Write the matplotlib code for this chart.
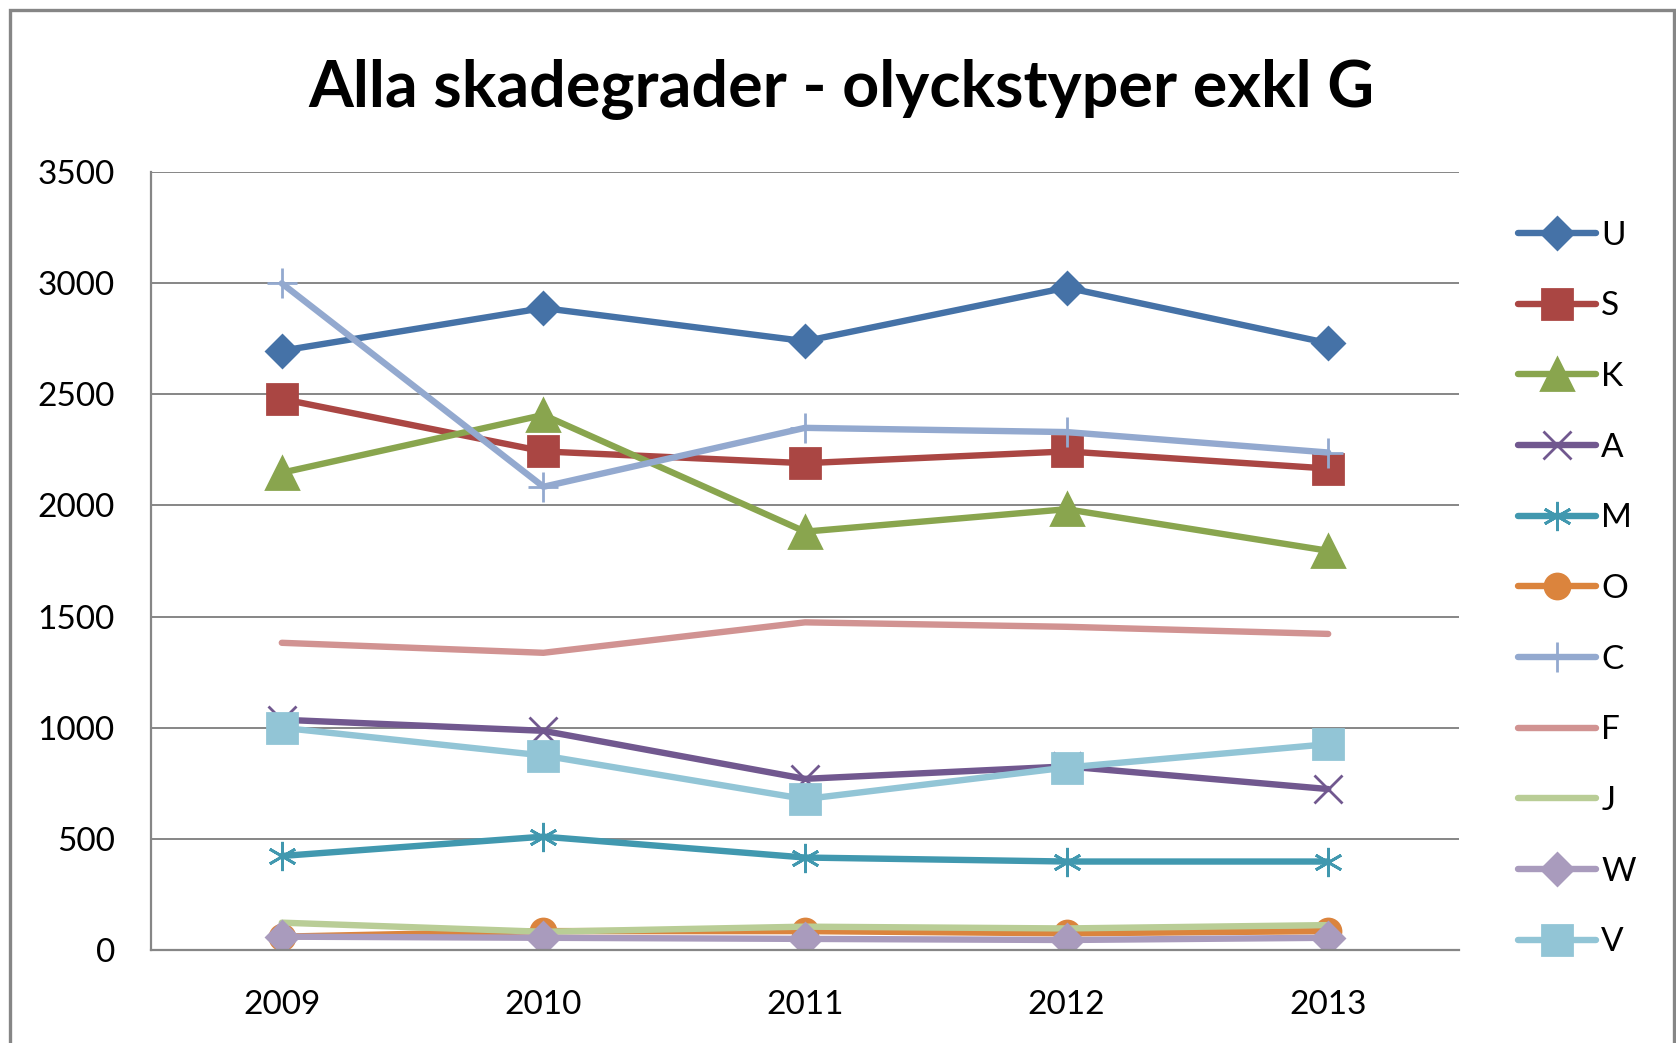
import matplotlib.pyplot as plt
from matplotlib.patches import Rectangle

# ---------- Data ----------
years = ["2009", "2010", "2011", "2012", "2013"]

U = [2696, 2888, 2739, 2980, 2730]
S = [2479, 2243, 2190, 2243, 2166]
K = [2147, 2407, 1882, 1983, 1796]
A = [1036, 986, 770, 826, 724]
M = [423, 510, 416, 398, 398]
O = [60, 85, 85, 75, 85]
C = [2999, 2084, 2349, 2330, 2238]
F = [1382, 1337, 1474, 1454, 1422]
J = [123, 82, 105, 97, 112]
W = [60, 55, 50, 45, 55]
V = [1000, 875, 679, 821, 926]

labels = ["U", "S", "K", "A", "M", "O", "C", "F", "J", "W", "V"]
colors = ["#4572A7", "#AA4643", "#89A54E", "#71588F", "#4198AF", "#DB843D",
          "#93A9CF", "#D19392", "#B9CD96", "#A99BBD", "#92C5D6"]
markers = ["D", "s", "^", "x", (6, 2, 0), "o", "+", "None", "None", "D", "s"]
msizes = [16, 21, 23, 20, 21, 18, 22, 0, 0, 16, 21]
series = [U, S, K, A, M, O, C, F, J, W, V]

plt.rcParams["font.family"] = ["Lato", "DejaVu Sans"]

fig = plt.figure(figsize=(16.76, 10.43), dpi=100)
ax = fig.add_axes([151 / 1676, 1 - 950 / 1043, (1459 - 151) / 1676, (950 - 172) / 1043])

x = list(range(len(years)))
for vals, lab, col, mk, ms in zip(series, labels, colors, markers, msizes):
    ax.plot(x, vals, color=col, lw=4.6, marker=mk, markersize=ms,
            markeredgewidth=2, markerfacecolor=col, markeredgecolor=col,
            label=lab, solid_capstyle="round")

ax.set_xlim(-0.5, 4.5)
ax.set_ylim(0, 3500)
ax.set_yticks(range(0, 3501, 500))
ax.set_xticks(x)
ax.set_xticklabels(years)
ax.tick_params(axis="both", length=0, labelsize=24, colors="#000000")
ax.tick_params(axis="y", pad=26)
ax.tick_params(axis="x", pad=29)
ax.grid(axis="y", color="#868686", lw=1.4)
ax.set_axisbelow(True)
for side in ["top", "right"]:
    ax.spines[side].set_visible(False)
for side in ["left", "bottom"]:
    ax.spines[side].set_color("#868686")
    ax.spines[side].set_linewidth(1.6)

fig.text(0.502, 1 - 107 / 1043, "Alla skadegrader - olyckstyper exkl G",
         ha="center", va="baseline", fontsize=46.5, fontweight="bold")

fig.legend(loc="center left", bbox_to_anchor=(1518 / 1676, 1 - 589 / 1043),
           frameon=False, fontsize=24, handlelength=2.35, handletextpad=0.15,
           labelspacing=1.22, borderpad=0, borderaxespad=0, numpoints=1)

# outer chart frame
fig.patches.append(Rectangle((10 / 1676, -0.02), 1664 / 1676, 1.02 - 10 / 1043,
                             transform=fig.transFigure, fill=False,
                             edgecolor="#868686", lw=2.4))

fig.savefig("out.png", dpi=100)
